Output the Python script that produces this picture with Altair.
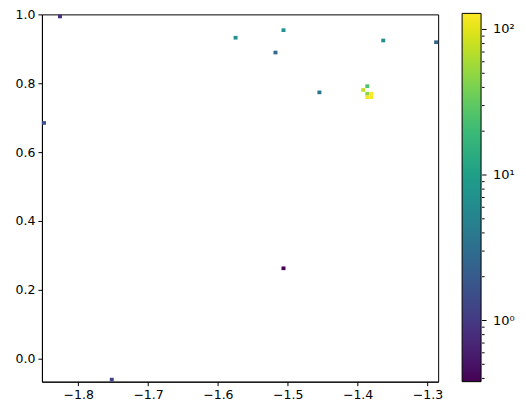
import altair as alt
import pandas as pd

# histogram cells (bin centres and counts)
cell_x = [-1.8261, -1.8490, -1.7519, -1.5747, -1.5061, -1.5176, -1.4547,
          -1.3633, -1.2876, -1.5061,
          -1.3861, -1.3919, -1.3861, -1.3804, -1.3861, -1.3804]
cell_y = [0.995, 0.685, -0.062, 0.933, 0.955, 0.890, 0.774,
          0.925, 0.920, 0.262,
          0.792, 0.781, 0.770, 0.770, 0.760, 0.760]
cell_count = [0.8, 1.5, 1.2, 7.5, 7.5, 2.8, 3.4,
              6.5, 2.6, 0.38,
              25, 75, 45, 129, 120, 125]

x_ticks = [-1.8, -1.7, -1.6, -1.5, -1.4, -1.3]
y_ticks = [0.0, 0.2, 0.4, 0.6, 0.8, 1.0]
cbar_ticks = [1, 10, 100]
cbar_minor = [0.4, 0.5, 0.6, 0.7, 0.8, 0.9, 2, 3, 4, 5, 6, 7, 8, 9,
              20, 30, 40, 50, 60, 70, 80, 90]

x_min, x_max = -1.8519, -1.2847
y_min, y_max = -0.068, 1.001
c_min, c_max = 0.38, 129
half_dx = (x_max - x_min) / 200
half_dy = (y_max - y_min) / 200

df = pd.DataFrame({"x": cell_x, "y": cell_y, "count": cell_count})
major_df = pd.DataFrame({"v": cbar_ticks})
minor_df = pd.DataFrame({"v": cbar_minor})

heat = alt.Chart(df).transform_calculate(
    x0=f"datum.x - {half_dx}", x1=f"datum.x + {half_dx}",
    y0=f"datum.y - {half_dy}", y1=f"datum.y + {half_dy}",
).mark_rect(strokeWidth=0).encode(
    x=alt.X("x0:Q", scale=alt.Scale(domain=[x_min, x_max], nice=False, zero=False),
            axis=alt.Axis(values=x_ticks, title=None,
                          labelExpr="replace(format(datum.value, '.1f'), '-', '\u2212')")),
    x2="x1:Q",
    y=alt.Y("y0:Q", scale=alt.Scale(domain=[y_min, y_max], nice=False, zero=False),
            axis=alt.Axis(values=y_ticks, title=None,
                          labelExpr="replace(format(datum.value, '.1f'), '-', '\u2212')")),
    y2="y1:Q",
    color=alt.Color("count:Q",
                    scale=alt.Scale(type="log", scheme="viridis", domain=[c_min, c_max], nice=False),
                    legend=alt.Legend(
                        title=None, orient="none", legendX=421, legendY=-1,
                        direction="vertical", gradientLength=369, gradientThickness=19,
                        gradientStrokeColor="black", gradientStrokeWidth=1,
                        values=cbar_ticks, labelFontSize=13, labelColor="black",
                        labelFont="DejaVu Sans", labelOffset=12, padding=0,
                        labelExpr="datum.value == 1 ? '10\u2070' : datum.value == 10 ? '10\u00b9' : '10\u00b2'",
                    )),
)

cbar_scale = alt.Scale(type="log", domain=[c_min, c_max], nice=False, range=[368, -1])

minor_rules = alt.Chart(minor_df).mark_rule(color="black", strokeWidth=1).encode(
    y=alt.Y("v:Q", scale=cbar_scale, axis=None),
    x=alt.value(441), x2=alt.value(443.5),
)
major_rules = alt.Chart(major_df).mark_rule(color="black", strokeWidth=1).encode(
    y=alt.Y("v:Q", scale=cbar_scale, axis=None),
    x=alt.value(441), x2=alt.value(445.5),
)

chart = alt.layer(heat, minor_rules, major_rules).resolve_scale(y="independent").properties(
    width=397, height=368,
    autosize=alt.AutoSizeParams(type="none"),
    padding={"left": 34, "top": 6, "right": 80, "bottom": 30},
).configure_view(
    stroke="black", strokeWidth=1,
).configure_axis(
    grid=False, domainColor="black", domainWidth=1, tickColor="black", tickSize=4,
    labelColor="black", labelFont="DejaVu Sans", labelFontSize=12.5, labelPadding=3,
)

chart.save("out.html", embed_options={"renderer": "svg", "actions": False})
